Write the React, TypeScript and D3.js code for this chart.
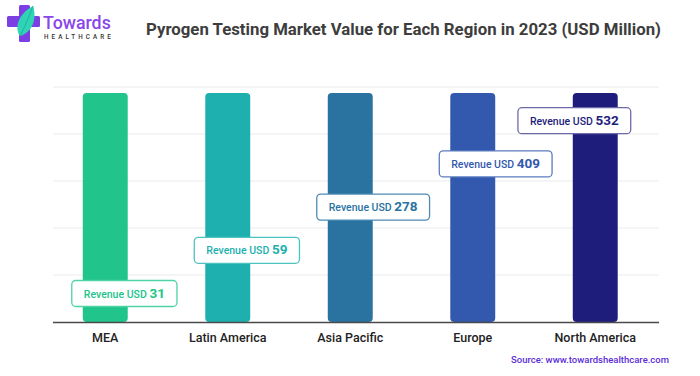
import React from "react";
import * as d3 from "d3";

const categories = ["MEA", "Latin America", "Asia Pacific", "Europe", "North America"];
const revenues = [31, 59, 278, 409, 532];
const barColors = ["#21c48a", "#1db0ae", "#2a72a0", "#3259ae", "#1f1d7c"];
const boxStrokes = ["#4fd3a3", "#4dc3c0", "#4f8bb5", "#5b7cc0", "#6d6aa8"];
const gridTicks = [0, 120, 240, 360, 480, 600];

const W = 700;
const H = 376;

export default function App() {
  const x = d3.scaleBand<string>().domain(categories).range([44, 656.5]).paddingInner(0.633).paddingOuter(0.3165);
  const y = d3.scaleLinear().domain([0, 600]).range([322, 87]);
  const labelY = d3.scalePoint<string>().domain(categories).range([293.5, 120.7]);
  const font = "Roboto, 'Liberation Sans', Arial, sans-serif";

  return (
    <svg width={W} height={H} viewBox={`0 0 ${W} ${H}`} style={{ position: "absolute", left: 0, top: 0, background: "#fff" }}>
      <rect x={0} y={0} width={W} height={H} fill="#fff" />
      {/* logo */}
      <g>
        <rect x={19} y={5} width={11} height={37} rx={1.5} fill="#7b3fe4" />
        <rect x={7} y={16} width={33} height={11} rx={1.5} fill="#7b3fe4" />
        <path d="M20,36 C14,28 18,14 33,6 C37,18 33,32 20,36 Z" fill="#2fd4b5" />
        <path d="M20,36 C24,28 28,20 33,6" stroke="#1aa894" strokeWidth={0.8} fill="none" />
        <text x={43} y={29} fontFamily={font} fontSize={17.8} fontWeight={500} fill="#8a45ea">Towards</text>
        <text x={44} y={39} fontFamily={font} fontSize={6.3} fontWeight={500} letterSpacing={3.1} fill="#333">HEALTHCARE</text>
      </g>
      {/* title */}
      <text x={146} y={35} fontFamily={font} fontSize={16.8} fontWeight={700} fill="#3d3d3d">
        Pyrogen Testing Market Value for Each Region in 2023 (USD Million)
      </text>
      {/* grid */}
      {gridTicks.slice(1).map((t) => (
        <line key={t} x1={53} x2={659} y1={y(t)} y2={y(t)} stroke="#ebebeb" strokeWidth={1} />
      ))}
      {/* bars */}
      {categories.map((c, i) => (
        <rect
          key={c}
          x={x(c)}
          y={y(600) + 6}
          width={x.bandwidth()}
          height={y(0) - y(600) - 6}
          rx={4}
          fill={barColors[i]}
        />
      ))}
      <line x1={53} x2={659} y1={y(0) + 0.5} y2={y(0) + 0.5} stroke="#4a4a4a" strokeWidth={1.5} />
      {/* labels */}
      {categories.map((c, i) => {
        const isLast = i === categories.length - 1;
        const valStr = String(revenues[i]);
        const bw = 90 + valStr.length * 7.6;
        const bx = isLast ? (x(c) as number) + x.bandwidth() + 13 - bw : (x(c) as number) - 11;
        const cy = labelY(c) as number;
        return (
          <g key={"l" + c}>
            <rect x={bx} y={cy - 13} width={bw} height={26} rx={4} fill="#fff" stroke={boxStrokes[i]} strokeWidth={1.3} />
            <text x={bx + bw / 2} y={cy + 4} textAnchor="middle" fontFamily={font} fill={barColors[i]}>
              <tspan fontSize={10.5} fontWeight={500}>Revenue USD </tspan>
              <tspan fontSize={13.5} fontWeight={700}>{valStr}</tspan>
            </text>
          </g>
        );
      })}
      {/* x labels */}
      {categories.map((c) => (
        <text key={"x" + c} x={(x(c) as number) + x.bandwidth() / 2} y={342} textAnchor="middle" fontFamily={font} fontSize={12.5} fontWeight={500} fill="#222">
          {c}
        </text>
      ))}
      <text x={669} y={363} textAnchor="end" fontFamily={font} fontSize={9.5} fontWeight={500} fill="#5b2dd8">
        Source: www.towardshealthcare.com
      </text>
    </svg>
  );
}
